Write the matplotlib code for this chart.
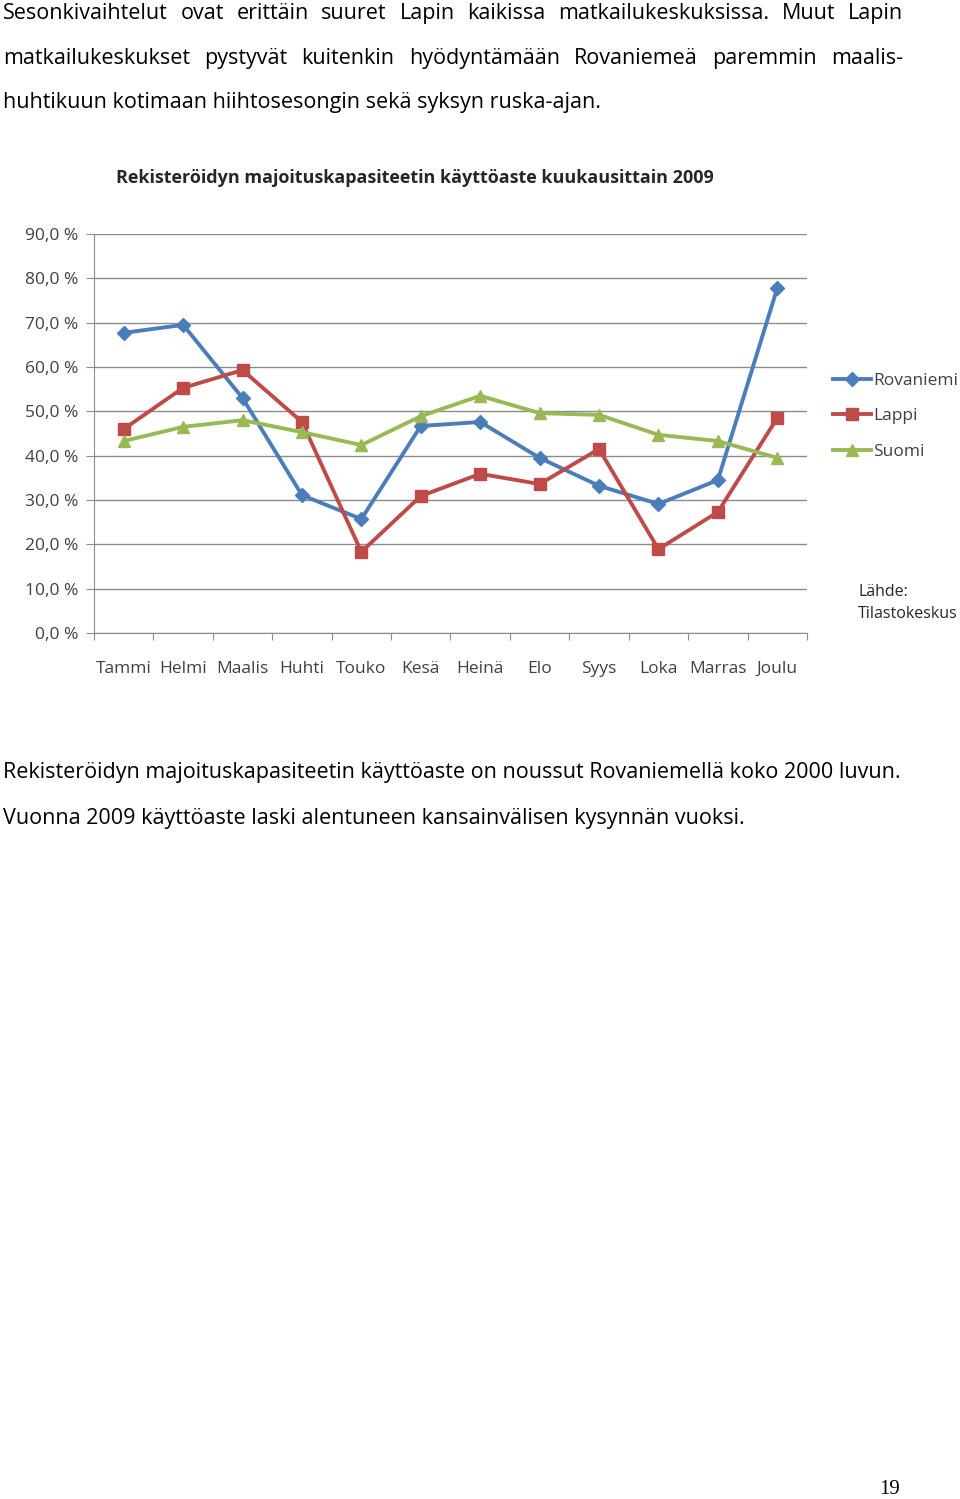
import matplotlib
matplotlib.use("Agg")
import matplotlib.pyplot as plt
from matplotlib.ticker import FuncFormatter

# ---- data ----
months = ["Tammi", "Helmi", "Maalis", "Huhti", "Touko", "Kesä",
          "Heinä", "Elo", "Syys", "Loka", "Marras", "Joulu"]
rovaniemi = [67.7, 69.5, 53.0, 31.1, 25.7, 46.7, 47.6, 39.5, 33.2, 29.1, 34.5, 77.8]
lappi = [46.0, 55.3, 59.3, 47.6, 18.3, 30.9, 35.9, 33.6, 41.5, 18.9, 27.3, 48.5]
suomi = [43.3, 46.5, 48.0, 45.3, 42.4, 48.9, 53.5, 49.6, 49.2, 44.7, 43.3, 39.5]

para_top = [
    "Sesonkivaihtelut ovat erittäin suuret Lapin kaikissa matkailukeskuksissa. Muut Lapin",
    "matkailukeskukset pystyvät kuitenkin hyödyntämään Rovaniemeä paremmin maalis-",
    "huhtikuun kotimaan hiihtosesongin sekä syksyn ruska-ajan.",
]
para_bottom = [
    "Rekisteröidyn majoituskapasiteetin käyttöaste on noussut Rovaniemellä koko 2000 luvun.",
    "Vuonna 2009 käyttöaste laski alentuneen kansainvälisen kysynnän vuoksi.",
]

FONT = ["Open Sans", "DejaVu Sans"]
plt.rcParams["font.family"] = FONT

W, H = 960, 1499
fig = plt.figure(figsize=(W / 100, H / 100), dpi=100)
renderer = fig.canvas.get_renderer()


def px(x, y):
    return x / W, 1 - y / H


def justify(line, y, x0, x1, size):
    # place words so the line fills x0..x1 (like justified word text)
    words = line.split(" ")
    widths = []
    for w in words:
        t = fig.text(0, 0, w, fontsize=size)
        widths.append(t.get_window_extent(renderer).width)
        t.remove()
    gap = (x1 - x0 - sum(widths)) / (len(words) - 1)
    x = x0
    for w, wd in zip(words, widths):
        fig.text(*px(x, y), w, fontsize=size, va="baseline", ha="left")
        x += wd + gap


body_size = 15.5
justify(para_top[0], 19, 3, 903, body_size)
justify(para_top[1], 64, 3, 903, body_size)
fig.text(*px(3, 108), para_top[2], fontsize=body_size, va="baseline")
fig.text(*px(3, 778), para_bottom[0], fontsize=body_size, va="baseline")
fig.text(*px(3, 824), para_bottom[1], fontsize=body_size, va="baseline")

# ---- chart ----
ax = fig.add_axes([94 / W, 1 - 633 / H, 713 / W, 399 / H])
x = list(range(len(months)))
ax.plot(x, rovaniemi, color="#4a7ebb", lw=2.8, marker="D", ms=7, label="Rovaniemi")
ax.plot(x, lappi, color="#be4b48", lw=2.8, marker="s", ms=9, label="Lappi")
ax.plot(x, suomi, color="#98b954", lw=2.8, marker="^", ms=9, label="Suomi")

ax.set_xlim(-0.5, 11.5)
ax.set_ylim(0, 90)
ax.set_yticks(range(0, 91, 10))
ax.yaxis.set_major_formatter(FuncFormatter(lambda v, p: f"{v:.1f} %".replace(".", ",")))
ax.grid(axis="y", color="#8c8c8c", lw=1)
ax.set_axisbelow(True)
ax.set_xticks([i - 0.5 for i in range(13)])
ax.set_xticklabels([])
ax.set_xticks(x, minor=True)
ax.set_xticklabels(months, minor=True)
ax.tick_params(axis="x", which="major", length=5, color="#8c8c8c", direction="out")
ax.tick_params(axis="x", which="minor", length=0, pad=20, labelsize=12.5, labelcolor="#404040")
ax.tick_params(axis="y", length=6, color="#8c8c8c", labelsize=12.5, labelcolor="#404040", pad=5)
for s in ["top", "right"]:
    ax.spines[s].set_visible(False)
for s in ["left", "bottom"]:
    ax.spines[s].set_color("#8c8c8c")

fig.text(*px(415, 178), "Rekisteröidyn majoituskapasiteetin käyttöaste kuukausittain 2009",
         fontsize=13, fontweight="bold", ha="center", va="center", color="#262626")

leg = fig.legend(loc="upper left", bbox_to_anchor=px(826, 366), frameon=False,
                 fontsize=12.5, handlelength=2.2, handletextpad=0.1, labelspacing=1.1,
                 borderaxespad=0)
for t in leg.get_texts():
    t.set_color("#404040")

fig.text(*px(858, 592), "Lähde:", fontsize=11.5, va="center", color="#262626")
fig.text(*px(858, 614), "Tilastokeskus", fontsize=11.5, va="center", color="#262626")

fig.text(*px(890, 1489), "19", fontsize=15, ha="center", va="center",
         family=["Liberation Serif", "DejaVu Serif"])

fig.savefig("out.png", dpi=100)
